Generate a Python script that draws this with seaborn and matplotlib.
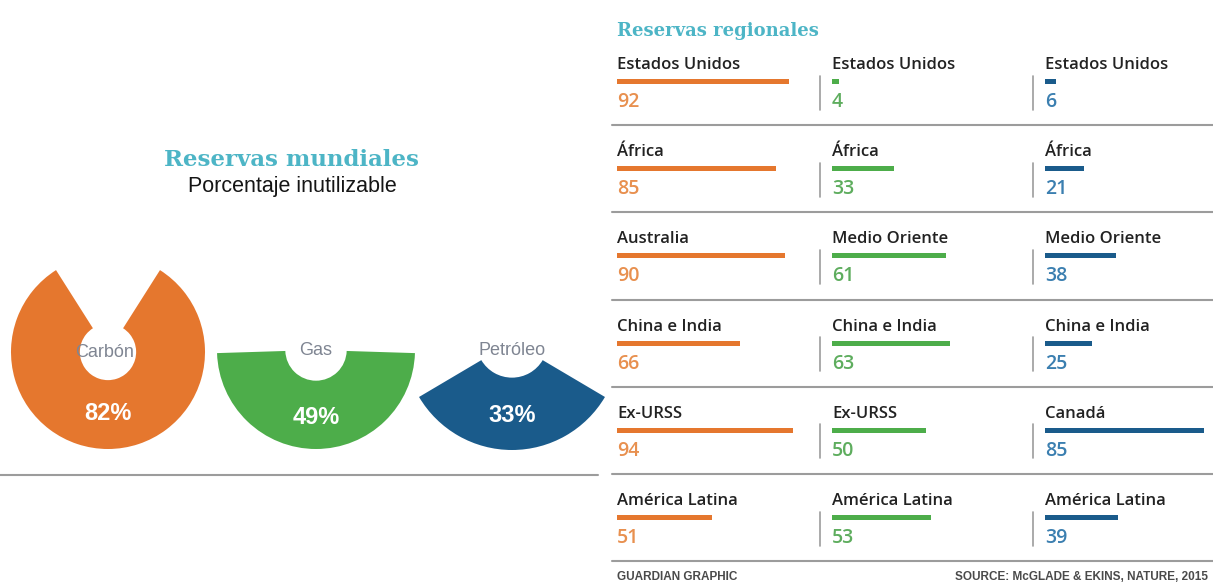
import matplotlib
matplotlib.use("Agg")
import matplotlib.pyplot as plt
import seaborn as sns

# ---- data ----
fuels = ["Carbón", "Gas", "Petróleo"]
unusable_pct = [82, 49, 33]

col1_regions = ["Estados Unidos", "África", "Australia", "China e India", "Ex-URSS", "América Latina"]
col1_values = [92, 85, 90, 66, 94, 51]
col2_regions = ["Estados Unidos", "África", "Medio Oriente", "China e India", "Ex-URSS", "América Latina"]
col2_values = [4, 33, 61, 63, 50, 53]
col3_regions = ["Estados Unidos", "África", "Medio Oriente", "China e India", "Canadá", "América Latina"]
col3_values = [6, 21, 38, 25, 85, 39]

# ---- style ----
W, H = 1213, 583
ORANGE, GREEN, BLUE = "#E5772E", "#4DAD4A", "#1A5B8B"
ORANGE_T, GREEN_T, BLUE_T = "#E8904F", "#5EAD5E", "#3B7FB0"
TEAL = "#4DB5C6"
LINE = "#9c9c9c"
NARROW = ["Liberation Sans Narrow", "Liberation Sans"]

sns.set_theme(style="white")
plt.rcParams["font.family"] = ["Open Sans", "DejaVu Sans"]

fig = plt.figure(figsize=(W / 100, H / 100), dpi=100)
fig.patch.set_facecolor("white")

# background axes in pixel coordinates for text and rules
bg = fig.add_axes([0, 0, 1, 1])
bg.set_xlim(0, W)
bg.set_ylim(H, 0)
bg.axis("off")


def px_axes(left, top, width, height):
    return fig.add_axes([left / W, 1 - (top + height) / H, width / W, height / H])


# ---- left panel: donut segments ----
bg.text(292, 166, "Reservas mundiales", color=TEAL, fontsize=16.5, fontweight="bold",
        family="DejaVu Serif", ha="center", va="baseline")
bg.text(292, 192, "Porcentaje inutilizable", color="#151515", fontsize=15.5,
        family=NARROW, ha="center", va="baseline")

pie_geom = [(108, 352, 97, 0.71), (316, 350, 99, 0.69), (512, 342, 108, 0.67)]
pie_colors = [ORANGE, GREEN, BLUE]
label_y = [357, 355, 355]
pct_y = [420, 424, 422]
for fuel, pct, (cx, cy, r, w), col, ly, py in zip(fuels, unusable_pct, pie_geom, pie_colors, label_y, pct_y):
    ax = px_axes(cx - r, cy - r, 2 * r, 2 * r)
    ax.pie([pct, 100 - pct], colors=[col, "none"], startangle=270 - pct * 1.8,
           radius=1, wedgeprops=dict(width=w, linewidth=0))
    ax.set_xlim(-1, 1)
    ax.set_ylim(-1, 1)
    ax.set_aspect("equal")
    ax.axis("off")
    fig.text((cx - 3 if fuel == "Carbón" else cx) / W, 1 - ly / H, fuel, color="#7f8592", fontsize=13,
             family=NARROW, ha="center", va="baseline")
    fig.text(cx / W, 1 - py / H, f"{pct}%", color="white", fontsize=17, fontweight="bold",
             family=NARROW, ha="center", va="baseline")

bg.plot([0, 598], [475, 475], color=LINE, lw=1.5)

# ---- right panel: regional bars ----
bg.text(617, 36, "Reservas regionales", color=TEAL, fontsize=13, fontweight="bold",
        family="DejaVu Serif", ha="left", va="baseline")

PITCH = 87.2
BAR0 = 81.5
SCALE = 1.87  # pixels per percent
col_x = [617, 832, 1045]
columns = [(col1_regions, col1_values, ORANGE, ORANGE_T),
           (col2_regions, col2_values, GREEN, GREEN_T),
           (col3_regions, col3_values, BLUE, BLUE_T)]

for k, (regions, values, col, tcol) in enumerate(columns):
    x0 = col_x[k]
    ax = px_axes(x0, BAR0 - PITCH / 2, 180, PITCH * 6)
    sns.barplot(x=values, y=regions, ax=ax, color=col, orient="h",
                width=5 / PITCH, saturation=1, linewidth=0)
    ax.set_xlim(0, 180 / SCALE)
    ax.set_ylim(5.5, -0.5)
    ax.axis("off")
    for i, (reg, v) in enumerate(zip(regions, values)):
        yb = BAR0 + PITCH * i
        bg.text(x0, yb - 12.5, reg, color="#222222", fontsize=12, fontweight="semibold",
                ha="left", va="baseline")
        bg.text(x0, yb + 25.5, str(v), color=tcol, fontsize=14, fontweight="semibold",
                ha="left", va="baseline")
        if k > 0:
            bg.plot([x0 - 12, x0 - 12], [yb - 6, yb + 28], color=LINE, lw=1.2)

for i in range(6):
    y = BAR0 + PITCH * (i + 0.5)
    bg.plot([612, W], [y, y], color=LINE, lw=1.5)

bg.text(617, 580, "GUARDIAN GRAPHIC", color="#4a4a4a", fontsize=8.5, fontweight="bold",
        family=NARROW, ha="left", va="baseline")
bg.text(1208, 580, "SOURCE: McGLADE & EKINS, NATURE, 2015", color="#4a4a4a", fontsize=8.5,
        fontweight="bold", family=NARROW, ha="right", va="baseline")

fig.savefig("out.png", dpi=100, facecolor="white")
